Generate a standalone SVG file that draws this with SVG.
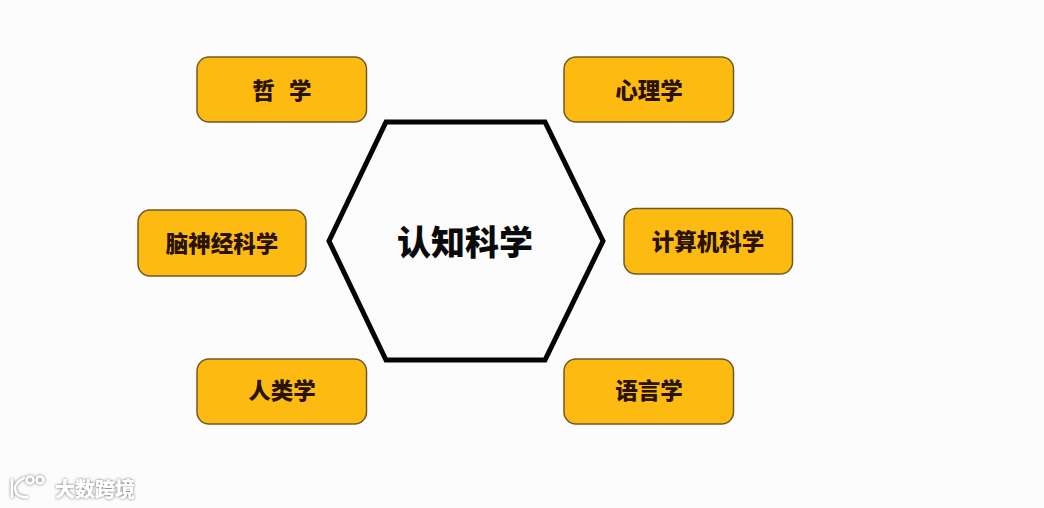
<svg xmlns="http://www.w3.org/2000/svg" width="1044" height="508" viewBox="0 0 1044 508">
<defs>
<filter id="halo" x="-20%" y="-30%" width="140%" height="160%"><feGaussianBlur in="SourceAlpha" stdDeviation="1.4"/><feComponentTransfer result="b"><feFuncA type="linear" slope="1.1"/></feComponentTransfer><feFlood flood-color="#777"/><feComposite in2="b" operator="in"/><feMerge><feMergeNode/><feMergeNode in="SourceGraphic"/></feMerge></filter>
</defs>
<style>
text{font-family:"Noto Sans CJK SC","Liberation Sans",sans-serif;text-anchor:middle;font-weight:900}
.box{fill:#fdbb12;stroke:#6f5a28;stroke-width:1.5}
.lbl{font-size:22.5px;fill:#2a1204}
</style>
<rect width="1044" height="508" fill="#fdfcfd"/>
<g id="center"><polygon points="386,122 545,122 603,241 545,360 386,360 329,241" fill="#fcfbfc" stroke="#050505" stroke-width="5"/><text x="465" y="255" font-size="34" fill="#0a0a0a">认知科学</text></g>
<g id="philosophy"><rect class="box" x="197" y="57" width="169.500" height="65" rx="12"/><text class="lbl" x="282.500" y="99" xml:space="preserve" letter-spacing="1.300">哲  学</text></g>
<g id="psychology"><rect class="box" x="564" y="57" width="169.500" height="65" rx="12"/><text class="lbl" x="649" y="98.500">心理学</text></g>
<g id="neuroscience"><rect class="box" x="138" y="210" width="168" height="66" rx="12"/><text class="lbl" x="222" y="252">脑神经科学</text></g>
<g id="computer-science"><rect class="box" x="624" y="208.500" width="168.500" height="65.500" rx="12"/><text class="lbl" x="708" y="250">计算机科学</text></g>
<g id="anthropology"><rect class="box" x="197" y="359" width="169.500" height="65" rx="12"/><text class="lbl" x="282" y="399">人类学</text></g>
<g id="linguistics"><rect class="box" x="564" y="359" width="169.500" height="65" rx="12"/><text class="lbl" x="649" y="399">语言学</text></g>
<g id="connectors"></g>
<g id="watermark" filter="url(#halo)">
<g fill="none" stroke="#fff" stroke-width="2.500" stroke-linecap="round"><path d="M12,480V497"/><path d="M24,478C18,481 15,485 15,488C15,494 20,498 27,497"/><circle cx="30" cy="480" r="3.500"/><circle cx="40" cy="480" r="3.500"/></g>
<text x="95" y="497" font-size="20" fill="#fff" font-weight="400">大数跨境</text>
</g>
</svg>
